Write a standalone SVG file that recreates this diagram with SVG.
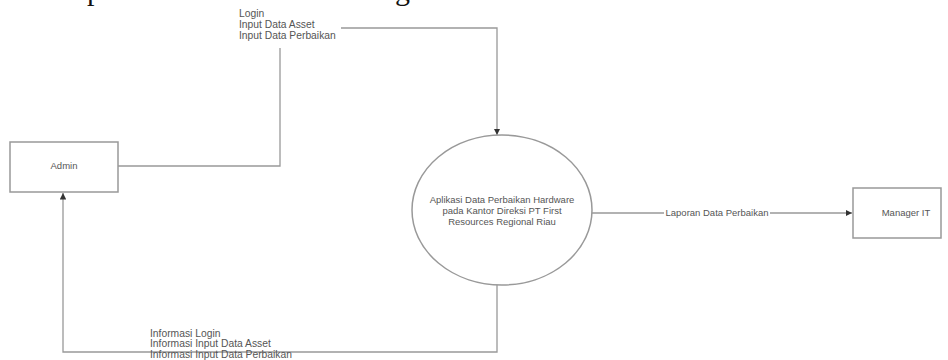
<svg xmlns="http://www.w3.org/2000/svg" width="948" height="360" viewBox="0 0 948 360">
<defs>
<marker id="arr" viewBox="0 0 10 10" refX="10" refY="5" markerWidth="5" markerHeight="5" orient="auto-start-reverse">
<path d="M0,0 L10,5 L0,10 z" fill="#333"/>
</marker>
<style>
.box{fill:#fff;stroke:#999;stroke-width:1.5}
.ln{fill:none;stroke:#999;stroke-width:1.3}
.t{font-family:"Liberation Sans",Arial,sans-serif;font-size:9.5px;fill:#555}
.l{font-size:10.3px}
.c{text-anchor:middle}
.cap{font-family:"Liberation Serif","Times New Roman",serif;font-size:30px;fill:#111}
</style>
</defs>
<rect width="948" height="360" fill="#fff"/>
<text class="cap" x="87" y="0">p</text>
<text class="cap" x="395" y="0">g</text>
<g id="connectors">
<polyline class="ln" points="118,166 280,166 280,48"/>
<polyline class="ln" points="341,28 497,28 497,135" marker-end="url(#arr)"/>
<line class="ln" x1="592" y1="213" x2="852" y2="213" marker-end="url(#arr)"/>
<polyline class="ln" points="497,284 497,352 63,352 63,193" marker-end="url(#arr)"/>
<rect x="664" y="207" width="106" height="11" fill="#fff"/>
<text class="t c" x="717" y="216">Laporan Data Perbaikan</text>
<text class="t l" x="239" y="17">Login</text>
<text class="t l" x="239" y="28">Input Data Asset</text>
<text class="t l" x="239" y="39">Input Data Perbaikan</text>
<text class="t l" x="150" y="337">Informasi Login</text>
<text class="t l" x="150" y="347">Informasi Input Data Asset</text>
<text class="t l" x="150" y="358">Informasi Input Data Perbaikan</text>
</g>
<g id="admin">
<rect class="box" x="10" y="142" width="108" height="50"/>
<text class="t c" x="64" y="169">Admin</text>
</g>
<g id="proses">
<ellipse class="box" cx="502" cy="210" rx="90" ry="75"/>
<text class="t c" x="502" y="203">Aplikasi Data Perbaikan Hardware</text>
<text class="t c" x="502" y="214">pada Kantor Direksi PT First</text>
<text class="t c" x="502" y="225">Resources Regional Riau</text>
</g>
<g id="manager">
<rect class="box" x="853" y="188" width="88" height="50"/>
<text class="t c" x="906" y="216">Manager IT</text>
</g>
</svg>
